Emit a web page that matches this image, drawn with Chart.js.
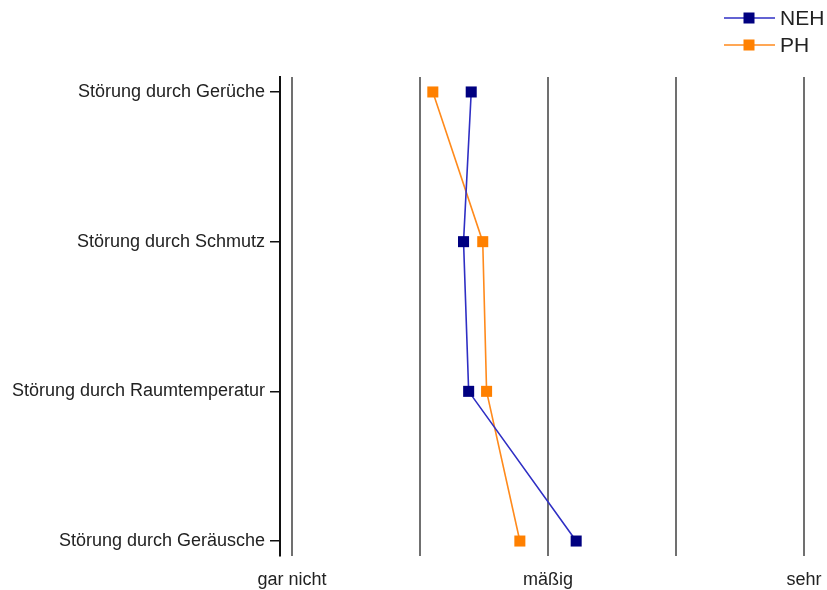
<!DOCTYPE html>
<html>
<head>
<meta charset="utf-8">
<script src="https://cdn.jsdelivr.net/npm/chart.js@4.4.1/dist/chart.umd.min.js"></script>
<style>
  html, body { margin: 0; padding: 0; background: #fff; }
  #wrap { width: 827px; height: 590px; position: relative; }
</style>
</head>
<body>
<div id="wrap"><canvas id="c" width="827" height="590"></canvas></div>
<script>
// Kategorien (von oben nach unten)
const categories = [
  'Störung durch Gerüche',
  'Störung durch Schmutz',
  'Störung durch Raumtemperatur',
  'Störung durch Geräusche'
];
// Mittelwerte auf der Skala 1 (gar nicht) bis 5 (sehr)
const nehValues = [2.40, 2.34, 2.38, 3.22];
const phValues  = [2.10, 2.49, 2.52, 2.78];
// Beschriftung der Skala
const scaleTicks = [1, 2, 3, 4, 5];
const scaleLabels = ['gar nicht', '', 'mäßig', '', 'sehr'];

const seriesNames = ['NEH', 'PH'];
const lineColors = ['#2f2fc4', '#ff8a1c'];
const markerColors = ['#000080', '#ff8000'];

const toPoints = vals => vals.map((v, i) => ({ x: v, y: i }));

const FONT = "'Liberation Sans', Arial, sans-serif";

// Legende oben rechts: Linie mit quadratischem Marker
const lineLegend = {
  id: 'lineLegend',
  afterDraw(chart) {
    const ctx = chart.ctx;
    ctx.save();
    chart.data.datasets.forEach((ds, i) => {
      const y = 18 + i * 27;
      ctx.strokeStyle = ds.borderColor;
      ctx.lineWidth = 1.6;
      ctx.beginPath();
      ctx.moveTo(724, y);
      ctx.lineTo(775, y);
      ctx.stroke();
      ctx.fillStyle = ds.pointBackgroundColor;
      ctx.fillRect(749 - 5.5, y - 5.5, 11, 11);
      ctx.fillStyle = '#222';
      ctx.font = '21px ' + FONT;
      ctx.textAlign = 'left';
      ctx.textBaseline = 'middle';
      ctx.fillText(ds.label, 780, y + 1);
    });
    ctx.restore();
  }
};

new Chart(document.getElementById('c'), {
  type: 'line',
  data: {
    datasets: [nehValues, phValues].map((vals, i) => ({
      label: seriesNames[i],
      data: toPoints(vals),
      borderColor: lineColors[i],
      borderWidth: 1.6,
      pointStyle: 'rect',
      pointRadius: 7.8,
      pointHoverRadius: 7.8,
      pointBackgroundColor: markerColors[i],
      pointBorderColor: markerColors[i],
      pointBorderWidth: 0,
      tension: 0,
      fill: false
    }))
  },
  options: {
    responsive: false,
    animation: false,
    events: [],
    layout: { padding: { left: 0, top: 77, right: 23, bottom: 0 } },
    plugins: { legend: { display: false }, tooltip: { enabled: false } },
    scales: {
      x: {
        type: 'linear',
        min: 0.906,
        max: 5,
        afterBuildTicks: s => { s.ticks = scaleTicks.map(v => ({ value: v })); },
        afterFit: s => { s.height = 34; s.paddingLeft = 0; s.paddingRight = 0; },
        grid: { color: '#707070', lineWidth: 2, drawTicks: false },
        border: { display: false },
        ticks: {
          padding: 13,
          color: '#222',
          font: { family: FONT, size: 18 },
          maxRotation: 0,
          autoSkip: false,
          callback: v => scaleLabels[scaleTicks.indexOf(v)]
        }
      },
      y: {
        type: 'linear',
        reverse: true,
        min: -0.1,
        max: 3.1,
        afterBuildTicks: s => { s.ticks = categories.map((c, i) => ({ value: i })); },
        afterFit: s => { s.width = 280; s.paddingTop = 0; s.paddingBottom = 0; },
        grid: { drawOnChartArea: false, drawTicks: true, tickLength: 10, color: '#111', lineWidth: 1.5 },
        border: { display: true, color: '#111', width: 2 },
        ticks: {
          padding: 5,
          color: '#222',
          font: { family: FONT, size: 18 },
          autoSkip: false,
          callback: v => categories[v]
        }
      }
    }
  },
  plugins: [lineLegend]
});
</script>
</body>
</html>
